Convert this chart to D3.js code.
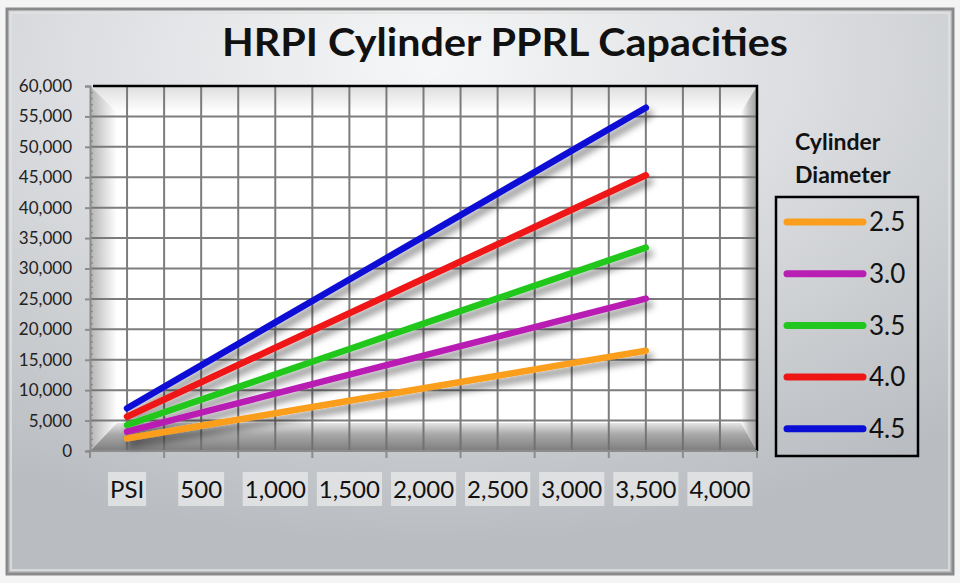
<!DOCTYPE html>
<html lang="en">

<head>
  <meta charset="UTF-8">
  <title>HRPI Cylinder PPRL Capacities</title>
  <style>
    * {
      box-sizing: border-box;
    }

    body {
      margin: 0;
      padding: 0;
      background: #fff;
    }

    svg {
      display: block;
      font-family: Lato, "Open Sans", sans-serif;
    }
  </style>
</head>

<body>
  <div class="chart"></div>

  <script src="https://cdnjs.cloudflare.com/ajax/libs/d3/7.8.5/d3.min.js"></script>
  <script>
    'use strict';

    // x categories (first one is the axis caption)
    const categories = ['PSI', '500', '1,000', '1,500', '2,000', '2,500', '3,000', '3,500', '4,000'];
    const yTicks = [0, 5000, 10000, 15000, 20000, 25000, 30000, 35000, 40000, 45000, 50000, 55000, 60000];

    // PPRL capacity per diameter
    const diameters = ['2.5', '3.0', '3.5', '4.0', '4.5'];
    const dia25 = [2080, 4140, 6200, 8260, 10320, 12380, 14440, 16490];
    const dia30 = [3180, 6300, 9420, 12550, 15670, 18790, 21910, 25040];
    const dia35 = [4270, 8440, 12600, 16770, 20930, 25090, 29260, 33420];
    const dia40 = [5640, 11310, 16980, 22650, 28320, 33990, 39660, 45320];
    const dia45 = [7020, 14080, 21140, 28200, 35250, 42310, 49370, 56430];
    const colors = ['#fb9e1e', '#b81fb3', '#21c71f', '#ee1515', '#0b0fd6'];

    const series = [dia25, dia30, dia35, dia40, dia45].map((vals, i) => ({
      name: diameters[i],
      color: colors[i],
      values: vals.map((v, j) => ({ cat: categories[j], v: v }))
    }));

    const W = 960, H = 583;
    const plot = { left: 90, right: 757, top: 86, bottom: 451 };

    const svg = d3.select('.chart').append('svg')
      .attr('width', W)
      .attr('height', H);

    const defs = svg.append('defs');

    const bg = defs.append('radialGradient').attr('id', 'bg')
      .attr('cx', '45%').attr('cy', '10%').attr('r', '85%');
    bg.append('stop').attr('offset', '0%').attr('stop-color', '#f6f7f8');
    bg.append('stop').attr('offset', '45%').attr('stop-color', '#dcdee1');
    bg.append('stop').attr('offset', '100%').attr('stop-color', '#b9bcc0');

    function linGrad(id, x1, y1, x2, y2, stops) {
      const g = defs.append('linearGradient').attr('id', id)
        .attr('x1', x1).attr('y1', y1).attr('x2', x2).attr('y2', y2);
      stops.forEach(s => g.append('stop').attr('offset', s[0]).attr('stop-color', s[1]));
    }
    linGrad('bevL', '0%', '0%', '100%', '0%', [['0%', '#b3b3b3'], ['60%', '#e2e2e2'], ['100%', '#ffffff']]);
    linGrad('bevB', '0%', '0%', '0%', '100%', [['0%', '#e4e4e4'], ['40%', '#a9a9a9'], ['100%', '#7d7d7d']]);
    linGrad('bevR', '0%', '0%', '100%', '0%', [['0%', '#ffffff'], ['45%', '#c9c9c9'], ['100%', '#9c9c9c']]);
    linGrad('bevT', '0%', '0%', '0%', '100%', [['0%', '#dedede'], ['100%', '#ffffff']]);

    const shadow = defs.append('filter').attr('id', 'shadow')
      .attr('x', '-20%').attr('y', '-20%').attr('width', '140%').attr('height', '140%');
    shadow.append('feDropShadow')
      .attr('dx', 4).attr('dy', 6).attr('stdDeviation', 3.5)
      .attr('flood-color', '#000').attr('flood-opacity', 0.45);

    // chart frame
    svg.append('rect')
      .attr('x', 0).attr('y', 0).attr('width', W).attr('height', H)
      .attr('fill', '#f4f4f4');
    svg.append('rect')
      .attr('x', 7).attr('y', 9).attr('width', W - 14).attr('height', H - 18)
      .attr('fill', 'url(#bg)')
      .attr('stroke', '#8a8a8a').attr('stroke-width', 3);
    svg.append('rect')
      .attr('x', 11).attr('y', 13).attr('width', W - 22).attr('height', H - 26)
      .attr('fill', 'none')
      .attr('stroke', '#e2e2e2').attr('stroke-width', 1.5);

    // title
    svg.append('text')
      .attr('x', 505).attr('y', 56)
      .attr('text-anchor', 'middle')
      .attr('font-size', 39)
      .attr('font-weight', 'bold')
      .attr('fill', '#111')
      .attr('textLength', 566)
      .attr('lengthAdjust', 'spacingAndGlyphs')
      .text('HRPI Cylinder PPRL Capacities');

    const x = d3.scaleBand()
      .domain(categories)
      .range([plot.left, plot.right]);

    const y = d3.scaleLinear()
      .domain([0, 60000])
      .range([plot.bottom, plot.top]);

    const cx = c => x(c) + x.bandwidth() / 2;

    // plot area + bevel
    const L = plot.left, R = plot.right, T = plot.top, B = plot.bottom;
    const bl = 27, bb = 28, br = 16, bt = 26;
    svg.append('rect')
      .attr('x', L).attr('y', T).attr('width', R - L).attr('height', B - T)
      .attr('fill', '#ffffff');
    svg.append('polygon')
      .attr('points', [[L, T], [R, T], [R - br, T + bt], [L + bl, T + bt]].join(' '))
      .attr('fill', 'url(#bevT)');
    svg.append('polygon')
      .attr('points', [[L, T], [L + bl, T + bt], [L + bl, B - bb], [L, B]].join(' '))
      .attr('fill', 'url(#bevL)');
    svg.append('polygon')
      .attr('points', [[R, T], [R, B], [R - br, B - bb], [R - br, T + bt]].join(' '))
      .attr('fill', 'url(#bevR)');
    svg.append('polygon')
      .attr('points', [[L, B], [L + bl, B - bb], [R - br, B - bb], [R, B]].join(' '))
      .attr('fill', 'url(#bevB)');

    // gridlines
    const grid = svg.append('g')
      .attr('stroke', '#6f6f6f')
      .attr('stroke-width', 2)
      .attr('opacity', 0.9);

    grid.selectAll('.hgrid')
      .data(yTicks.filter(d => d > 0 && d < 60000))
      .join('line')
      .attr('class', 'hgrid')
      .attr('x1', L).attr('x2', R)
      .attr('y1', d => y(d)).attr('y2', d => y(d));

    const vLines = [];
    categories.forEach(c => {
      if (c !== categories[0]) vLines.push(x(c));
      vLines.push(cx(c));
    });
    grid.selectAll('.vgrid')
      .data(vLines)
      .join('line')
      .attr('class', 'vgrid')
      .attr('x1', d => d).attr('x2', d => d)
      .attr('y1', T).attr('y2', B);

    // top and right border
    svg.append('path')
      .attr('d', `M${L + 3},${T}H${R}V${B}`)
      .attr('fill', 'none')
      .attr('stroke', '#000')
      .attr('stroke-width', 2.5);

    // y axis
    const yAxis = svg.append('g')
      .attr('transform', `translate(${L},0)`)
      .call(d3.axisLeft(y)
        .tickValues(yTicks)
        .tickSize(5)
        .tickPadding(13)
        .tickFormat(d3.format(',')));
    yAxis.select('.domain').attr('stroke', '#8c8c8c').attr('stroke-width', 2);
    yAxis.selectAll('.tick line').attr('stroke', '#8c8c8c').attr('stroke-width', 2);
    yAxis.selectAll('.tick text')
      .attr('font-size', 17)
      .attr('font-family', 'Lato, sans-serif')
      .attr('fill', '#222');

    // minor ticks along the y axis
    svg.append('g')
      .attr('transform', `translate(${L},0)`)
      .call(d3.axisRight(y)
        .tickValues(d3.range(0, 60001, 1000).filter(d => d % 5000 !== 0))
        .tickSize(3)
        .tickFormat(''))
      .call(g => g.select('.domain').remove())
      .selectAll('line').attr('stroke', '#8c8c8c').attr('stroke-width', 1.5);

    // x axis
    const xAxis = svg.append('g')
      .attr('transform', `translate(0,${B})`);
    xAxis.append('line')
      .attr('x1', L - 3).attr('x2', R)
      .attr('stroke', '#8c8c8c').attr('stroke-width', 2);
    xAxis.selectAll('.xtick')
      .data(categories.map(c => x(c)).concat([R]))
      .join('line')
      .attr('class', 'xtick')
      .attr('x1', d => d).attr('x2', d => d)
      .attr('y1', 0).attr('y2', 7)
      .attr('stroke', '#8c8c8c').attr('stroke-width', 2);

    const xLabel = xAxis.selectAll('.xlabel')
      .data(categories)
      .join('g')
      .attr('class', 'xlabel')
      .attr('transform', d => `translate(${cx(d)},38)`);
    xLabel.append('rect');
    xLabel.append('text')
      .attr('text-anchor', 'middle')
      .attr('dy', '0.36em')
      .attr('font-size', 24)
      .attr('fill', '#111')
      .text(d => d);
    xLabel.each(function () {
      const bb = d3.select(this).select('text').node().getBBox();
      d3.select(this).select('rect')
        .attr('x', bb.x - 2).attr('y', -17)
        .attr('width', bb.width + 4).attr('height', 34)
        .attr('fill', '#e4e5e6')
        .attr('opacity', 0.85);
    });

    // series lines
    const line = d3.line()
      .x(d => cx(d.cat))
      .y(d => y(d.v));

    svg.append('g')
      .attr('filter', 'url(#shadow)')
      .selectAll('.series')
      .data(series)
      .join('path')
      .attr('class', 'series')
      .attr('d', d => line(d.values))
      .attr('fill', 'none')
      .attr('stroke', d => d.color)
      .attr('stroke-width', 6.5)
      .attr('stroke-linecap', 'round');

    // legend
    const legend = svg.append('g');
    legend.append('text')
      .attr('x', 795).attr('y', 150)
      .attr('font-size', 23).attr('font-weight', 'bold').attr('fill', '#111')
      .text('Cylinder');
    legend.append('text')
      .attr('x', 795).attr('y', 183)
      .attr('font-size', 23).attr('font-weight', 'bold').attr('fill', '#111')
      .text('Diameter');
    legend.append('rect')
      .attr('x', 776).attr('y', 197).attr('width', 142).attr('height', 259)
      .attr('fill', 'none')
      .attr('stroke', '#000').attr('stroke-width', 2.5);

    const item = legend.selectAll('.item')
      .data(series)
      .join('g')
      .attr('class', 'item')
      .attr('transform', (d, i) => `translate(0,${222 + i * 51.7})`);
    item.append('line')
      .attr('x1', 787).attr('x2', 863)
      .attr('stroke', d => d.color)
      .attr('stroke-width', 7)
      .attr('stroke-linecap', 'round');
    item.append('text')
      .attr('x', 869)
      .attr('dy', '0.36em')
      .attr('font-size', 26)
      .attr('fill', '#111')
      .text(d => d.name);
  </script>
</body>

</html>
